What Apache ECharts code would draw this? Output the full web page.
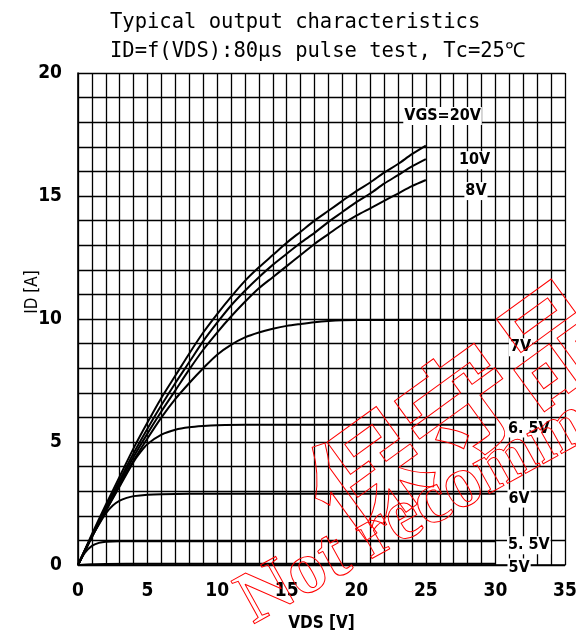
<!DOCTYPE html>
<html>
<head>
<meta charset="utf-8">
<script src="https://cdn.jsdelivr.net/npm/echarts@6/dist/echarts.min.js"></script>
<style>
  html, body { margin: 0; padding: 0; background: #fff; }
  #chart { width: 576px; height: 636px; }
</style>
</head>
<body>
<div id="chart"></div>
<script>
// ---- Data (VDS [V], ID [A]) ----
const titleLines = ['Typical output characteristics', 'ID=f(VDS):80\u03bcs pulse test, Tc=25\u2103'];
const xTicks = [0, 5, 10, 15, 20, 25, 30, 35];
const yTicks = [0, 5, 10, 15, 20];

const vgs20 = [[0,0],[1,1.25],[2,2.45],[3,3.6],[4,4.75],[5,5.8],[6,6.8],[7,7.7],[8,8.6],[9,9.45],[10,10.2],[11,10.9],[12,11.55],[13,12.1],[14,12.6],[15,13.1],[16,13.55],[17,14.0],[18,14.4],[19,14.8],[20,15.2],[21,15.55],[22,15.95],[23,16.3],[24,16.7],[25,17.05]];
const vgs10 = [[0,0],[1,1.2],[2,2.35],[3,3.45],[4,4.55],[5,5.55],[6,6.5],[7,7.4],[8,8.25],[9,9.1],[10,9.85],[11,10.55],[12,11.15],[13,11.7],[14,12.2],[15,12.65],[16,13.1],[17,13.5],[18,13.95],[19,14.35],[20,14.75],[21,15.1],[22,15.5],[23,15.85],[24,16.2],[25,16.5]];
const vgs8  = [[0,0],[1,1.15],[2,2.25],[3,3.35],[4,4.4],[5,5.35],[6,6.25],[7,7.1],[8,7.95],[9,8.75],[10,9.45],[11,10.1],[12,10.7],[13,11.25],[14,11.7],[15,12.15],[16,12.6],[17,13.05],[18,13.45],[19,13.85],[20,14.2],[21,14.5],[22,14.8],[23,15.1],[24,15.4],[25,15.65]];
const vgs7  = [[0,0],[1,1.15],[2,2.2],[3,3.25],[4,4.25],[5,5.15],[6,6.0],[7,6.75],[8,7.4],[9,8.0],[10,8.55],[11,8.95],[12,9.25],[13,9.45],[14,9.6],[15,9.72],[16,9.8],[17,9.87],[18,9.92],[19,9.95],[20,9.96],[25,9.96],[30,9.96]];
const vgs65 = [[0,0],[1,1.15],[2,2.2],[3,3.2],[4,4.2],[4.5,4.6],[5,4.92],[6,5.3],[7,5.5],[8,5.6],[9,5.65],[10,5.68],[12,5.7],[20,5.7],[30,5.7]];
const vgs6  = [[0,0],[0.5,0.6],[1,1.15],[1.5,1.65],[2,2.1],[2.5,2.42],[3,2.62],[3.5,2.73],[4,2.8],[5,2.86],[6,2.88],[10,2.9],[30,2.9]];
const vgs55 = [[0,0],[0.5,0.5],[1,0.78],[1.5,0.9],[2,0.95],[3,0.97],[5,0.97],[30,0.97]];
const vgs5  = [[0,0],[1,0.03],[2,0.04],[5,0.05],[30,0.05]];

const curveLabels = [
  [26.2, 18.25, 'VGS=20V'],
  [28.5, 16.45, '10V'],
  [28.6, 15.2, '8V'],
  [31.8, 8.85, '7V'],
  [32.4, 5.55, '6. 5V'],
  [31.7, 2.7, '6V'],
  [32.4, 0.8, '5. 5V'],
  [31.7, -0.1, '5V']
];

const chart = echarts.init(document.getElementById('chart'), null, { renderer: 'canvas' });
const black = '#000';
const narrow = "'Liberation Sans Narrow','DejaVu Sans Condensed',sans-serif";
const gridLine = { color: black, width: 1.3 };

function curve(name, data) {
  return {
    name, type: 'line', data, showSymbol: false, smooth: 0.3,
    lineStyle: { color: black, width: 2 }, z: 5, silent: true
  };
}

const deg = Math.PI / 180;

chart.setOption({
  animation: false,
  backgroundColor: '#fff',
  title: [
    { text: titleLines[0], left: 105, top: 7, textStyle: { fontFamily: "'DejaVu Sans Mono',monospace", fontSize: 20.5, fontWeight: 'normal', color: black } },
    { text: titleLines[1], left: 105, top: 36, textStyle: { fontFamily: "'DejaVu Sans Mono',monospace", fontSize: 20.5, fontWeight: 'normal', color: black } }
  ],
  grid: { left: 78, right: 11, top: 73, bottom: 71, containLabel: false, outerBoundsMode: 'none' },
  xAxis: {
    type: 'value', min: 0, max: 35, interval: 5,
    name: 'VDS [V]', nameLocation: 'middle', nameGap: 50, nameMoveOverlap: false,
    nameTextStyle: { fontFamily: narrow, fontSize: 17, fontWeight: 'bold', color: black },
    axisLine: { show: true, lineStyle: { color: black, width: 1.6 } },
    axisTick: { show: false },
    minorTick: { show: false, splitNumber: 5 },
    axisLabel: { margin: 17, fontFamily: narrow, fontSize: 19, fontWeight: 'bold', color: black,
      formatter: v => xTicks.includes(v) ? String(v) : '' },
    splitLine: { show: true, lineStyle: gridLine },
    minorSplitLine: { show: true, lineStyle: gridLine }
  },
  yAxis: {
    type: 'value', min: 0, max: 20, interval: 5,
    axisLine: { show: true, lineStyle: { color: black, width: 1.6 } },
    axisTick: { show: false },
    minorTick: { show: false, splitNumber: 5 },
    axisLabel: { margin: 16, fontFamily: narrow, fontSize: 19, fontWeight: 'bold', color: black,
      formatter: v => yTicks.includes(v) ? String(v) : '' },
    splitLine: { show: true, lineStyle: gridLine },
    minorSplitLine: { show: true, lineStyle: gridLine }
  },
  series: [
    curve('20V', vgs20), curve('10V', vgs10), curve('8V', vgs8), curve('7V', vgs7),
    curve('6.5V', vgs65), curve('6V', vgs6), curve('5.5V', vgs55), curve('5V', vgs5)
  ]
});

// Curve labels positioned through the chart's own coordinate system
const labelGraphics = curveLabels.map(([v, i, t]) => {
  const [px, py] = chart.convertToPixel({ gridIndex: 0 }, [v, i]);
  return {
    type: 'text', x: px, y: py, z: 50, silent: true,
    style: { text: t, align: 'center', verticalAlign: 'middle',
      fontFamily: narrow, fontSize: 16, fontWeight: 'bold', fill: '#000',
      backgroundColor: '#fff', padding: [1, 1] }
  };
});

chart.setOption({
  graphic: labelGraphics.concat([
    {
      type: 'text', x: 33, y: 292, rotation: 90 * deg, silent: true,
      style: { text: 'ID [A]', x: 0, y: 0, align: 'center', verticalAlign: 'middle',
        fontFamily: narrow, fontSize: 17, fill: black }
    },
    {
      type: 'text', x: 320, y: 508, rotation: 36 * deg, z: 100, silent: true,
      style: { text: '\u4fdd\u5b88\u54c1', x: 0, y: 0, align: 'left', verticalAlign: 'middle',
        fontFamily: "'Noto Sans CJK JP',sans-serif", fontWeight: 'bold', fontSize: 115,
        fill: 'rgba(0,0,0,0)', stroke: '#ff0000', lineWidth: 1 }
    },
    {
      type: 'text', x: 262, y: 640, rotation: 29 * deg, z: 100, silent: true,
      style: { text: 'Not recommended for new design', x: 0, y: 0, align: 'left', verticalAlign: 'bottom',
        fontFamily: "'Liberation Serif',serif", fontWeight: 'bold', fontSize: 74,
        fill: 'rgba(0,0,0,0)', stroke: '#ff0000', lineWidth: 1 }
    }
  ])
});
</script>
</body>
</html>
